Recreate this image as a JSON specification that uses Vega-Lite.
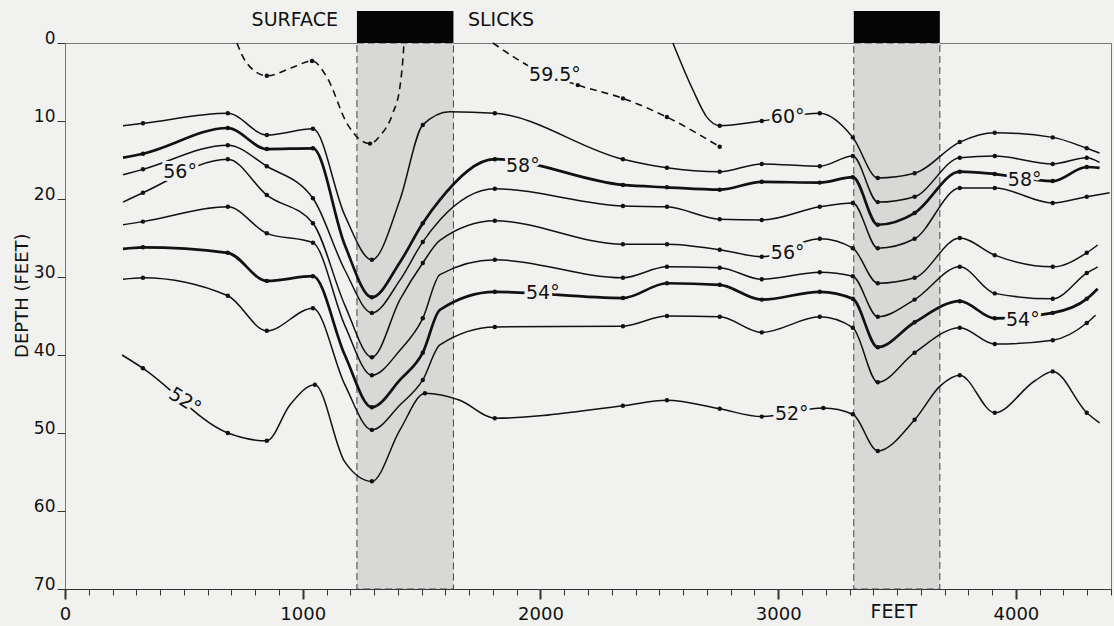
{
  "$schema": "https://vega.github.io/schema/vega-lite/v6.json",
  "width": 1046,
  "height": 546,
  "autosize": "none",
  "padding": {"left": 65, "top": 43, "right": 3, "bottom": 37},
  "background": "#f1f1f0",
  "config": {
    "view": {"stroke": "#777", "strokeWidth": 1},
    "font": "DejaVu Sans"
  },
  "datasets": {
    "iso": [
      {"s":"60","t":60,"x":2557,"d":0,"m":0},{"s":"60","t":60,"x":2641,"d":6.0,"m":0},{"s":"60","t":60,"x":2700,"d":9.5,"m":0},{"s":"60","t":60,"x":2754,"d":10.6,"m":1},{"s":"60","t":60,"x":2931,"d":10.0,"m":1},{"s":"60","t":60,"x":3175,"d":9.0,"m":1},{"s":"60","t":60,"x":3314,"d":12.1,"m":1},{"s":"60","t":60,"x":3419,"d":17.3,"m":1},{"s":"60","t":60,"x":3574,"d":16.7,"m":1},{"s":"60","t":60,"x":3764,"d":12.7,"m":1},{"s":"60","t":60,"x":3911,"d":11.5,"m":1},{"s":"60","t":60,"x":4155,"d":12.1,"m":1},{"s":"60","t":60,"x":4298,"d":13.5,"m":1},{"s":"60","t":60,"x":4352,"d":14.1,"m":0},
      {"s":"59.5a","t":59.5,"x":723,"d":0,"m":0},{"s":"59.5a","t":59.5,"x":765,"d":2.6,"m":0},{"s":"59.5a","t":59.5,"x":849,"d":4.2,"m":1},{"s":"59.5a","t":59.5,"x":959,"d":3.1,"m":0},{"s":"59.5a","t":59.5,"x":1039,"d":2.3,"m":1},{"s":"59.5a","t":59.5,"x":1102,"d":4.4,"m":0},{"s":"59.5a","t":59.5,"x":1186,"d":10.3,"m":0},{"s":"59.5a","t":59.5,"x":1241,"d":12.4,"m":0},{"s":"59.5a","t":59.5,"x":1283,"d":12.9,"m":1},{"s":"59.5a","t":59.5,"x":1325,"d":11.9,"m":0},{"s":"59.5a","t":59.5,"x":1379,"d":9.0,"m":0},{"s":"59.5a","t":59.5,"x":1409,"d":5.6,"m":0},{"s":"59.5a","t":59.5,"x":1421,"d":2.2,"m":0},{"s":"59.5a","t":59.5,"x":1426,"d":0,"m":0},
      {"s":"59.5b","t":59.5,"x":1800,"d":0,"m":0},{"s":"59.5b","t":59.5,"x":1985,"d":3.5,"m":0},{"s":"59.5b","t":59.5,"x":2157,"d":5.4,"m":1},{"s":"59.5b","t":59.5,"x":2347,"d":7.1,"m":1},{"s":"59.5b","t":59.5,"x":2532,"d":9.5,"m":1},{"s":"59.5b","t":59.5,"x":2754,"d":13.3,"m":1},
      {"s":"59","t":59,"x":244,"d":10.6,"m":0},{"s":"59","t":59,"x":328,"d":10.3,"m":1},{"s":"59","t":59,"x":685,"d":9.0,"m":1},{"s":"59","t":59,"x":849,"d":11.8,"m":1},{"s":"59","t":59,"x":1043,"d":11.0,"m":1},{"s":"59","t":59,"x":1177,"d":22.1,"m":0},{"s":"59","t":59,"x":1291,"d":27.8,"m":1},{"s":"59","t":59,"x":1409,"d":20.1,"m":0},{"s":"59","t":59,"x":1505,"d":10.5,"m":1},{"s":"59","t":59,"x":1619,"d":8.8,"m":0},{"s":"59","t":59,"x":1808,"d":9.0,"m":1},{"s":"59","t":59,"x":2347,"d":14.9,"m":1},{"s":"59","t":59,"x":2532,"d":16.0,"m":1},{"s":"59","t":59,"x":2754,"d":16.5,"m":1},{"s":"59","t":59,"x":2931,"d":15.5,"m":1},{"s":"59","t":59,"x":3175,"d":15.8,"m":1},{"s":"59","t":59,"x":3314,"d":14.5,"m":1},{"s":"59","t":59,"x":3419,"d":20.4,"m":1},{"s":"59","t":59,"x":3574,"d":19.7,"m":1},{"s":"59","t":59,"x":3764,"d":14.7,"m":1},{"s":"59","t":59,"x":3911,"d":14.5,"m":1},{"s":"59","t":59,"x":4155,"d":15.5,"m":1},{"s":"59","t":59,"x":4298,"d":14.7,"m":1},{"s":"59","t":59,"x":4352,"d":15.3,"m":0},
      {"s":"58","t":58,"x":244,"d":14.7,"m":0},{"s":"58","t":58,"x":328,"d":14.2,"m":1},{"s":"58","t":58,"x":685,"d":10.9,"m":1},{"s":"58","t":58,"x":849,"d":13.6,"m":1},{"s":"58","t":58,"x":1043,"d":13.5,"m":1},{"s":"58","t":58,"x":1177,"d":25.9,"m":0},{"s":"58","t":58,"x":1291,"d":32.6,"m":1},{"s":"58","t":58,"x":1409,"d":28.1,"m":0},{"s":"58","t":58,"x":1505,"d":23.1,"m":1},{"s":"58","t":58,"x":1577,"d":20.1,"m":0},{"s":"58","t":58,"x":1808,"d":14.9,"m":1},{"s":"58","t":58,"x":2347,"d":18.2,"m":1},{"s":"58","t":58,"x":2532,"d":18.5,"m":1},{"s":"58","t":58,"x":2754,"d":18.8,"m":1},{"s":"58","t":58,"x":2931,"d":17.8,"m":1},{"s":"58","t":58,"x":3175,"d":17.9,"m":1},{"s":"58","t":58,"x":3314,"d":17.2,"m":1},{"s":"58","t":58,"x":3419,"d":23.3,"m":1},{"s":"58","t":58,"x":3574,"d":21.8,"m":1},{"s":"58","t":58,"x":3764,"d":16.5,"m":1},{"s":"58","t":58,"x":3911,"d":16.8,"m":1},{"s":"58","t":58,"x":4155,"d":17.7,"m":1},{"s":"58","t":58,"x":4298,"d":15.9,"m":1},{"s":"58","t":58,"x":4352,"d":16.0,"m":0},
      {"s":"57","t":57,"x":244,"d":16.9,"m":0},{"s":"57","t":57,"x":328,"d":16.2,"m":1},{"s":"57","t":57,"x":685,"d":13.1,"m":1},{"s":"57","t":57,"x":849,"d":15.8,"m":1},{"s":"57","t":57,"x":1043,"d":19.9,"m":1},{"s":"57","t":57,"x":1177,"d":29.1,"m":0},{"s":"57","t":57,"x":1291,"d":34.6,"m":1},{"s":"57","t":57,"x":1409,"d":30.4,"m":0},{"s":"57","t":57,"x":1505,"d":25.5,"m":1},{"s":"57","t":57,"x":1577,"d":22.7,"m":0},{"s":"57","t":57,"x":1808,"d":18.7,"m":1},{"s":"57","t":57,"x":2347,"d":20.9,"m":1},{"s":"57","t":57,"x":2532,"d":21.0,"m":1},{"s":"57","t":57,"x":2754,"d":22.6,"m":1},{"s":"57","t":57,"x":2931,"d":22.7,"m":1},{"s":"57","t":57,"x":3175,"d":21.0,"m":1},{"s":"57","t":57,"x":3314,"d":20.5,"m":1},{"s":"57","t":57,"x":3419,"d":26.3,"m":1},{"s":"57","t":57,"x":3574,"d":25.1,"m":1},{"s":"57","t":57,"x":3764,"d":18.6,"m":1},{"s":"57","t":57,"x":3911,"d":18.6,"m":1},{"s":"57","t":57,"x":4155,"d":20.5,"m":1},{"s":"57","t":57,"x":4298,"d":19.7,"m":1},{"s":"57","t":57,"x":4394,"d":19.2,"m":0},
      {"s":"56","t":56,"x":244,"d":20.4,"m":0},{"s":"56","t":56,"x":328,"d":19.2,"m":1},{"s":"56","t":56,"x":685,"d":14.9,"m":1},{"s":"56","t":56,"x":849,"d":19.5,"m":1},{"s":"56","t":56,"x":1043,"d":23.1,"m":1},{"s":"56","t":56,"x":1177,"d":33.6,"m":0},{"s":"56","t":56,"x":1291,"d":40.3,"m":1},{"s":"56","t":56,"x":1409,"d":32.9,"m":0},{"s":"56","t":56,"x":1505,"d":28.2,"m":1},{"s":"56","t":56,"x":1577,"d":25.3,"m":0},{"s":"56","t":56,"x":1808,"d":22.8,"m":1},{"s":"56","t":56,"x":2347,"d":25.8,"m":1},{"s":"56","t":56,"x":2532,"d":25.8,"m":1},{"s":"56","t":56,"x":2754,"d":26.5,"m":1},{"s":"56","t":56,"x":2931,"d":27.4,"m":1},{"s":"56","t":56,"x":3175,"d":25.1,"m":1},{"s":"56","t":56,"x":3314,"d":26.3,"m":1},{"s":"56","t":56,"x":3419,"d":30.8,"m":1},{"s":"56","t":56,"x":3574,"d":30.1,"m":1},{"s":"56","t":56,"x":3764,"d":25.0,"m":1},{"s":"56","t":56,"x":3911,"d":27.2,"m":1},{"s":"56","t":56,"x":4155,"d":28.7,"m":1},{"s":"56","t":56,"x":4298,"d":26.9,"m":1},{"s":"56","t":56,"x":4344,"d":25.9,"m":0},
      {"s":"55","t":55,"x":244,"d":23.3,"m":0},{"s":"55","t":55,"x":328,"d":22.9,"m":1},{"s":"55","t":55,"x":685,"d":21.0,"m":1},{"s":"55","t":55,"x":849,"d":24.4,"m":1},{"s":"55","t":55,"x":1043,"d":25.6,"m":1},{"s":"55","t":55,"x":1177,"d":36.2,"m":0},{"s":"55","t":55,"x":1291,"d":42.6,"m":1},{"s":"55","t":55,"x":1409,"d":39.4,"m":0},{"s":"55","t":55,"x":1505,"d":35.3,"m":1},{"s":"55","t":55,"x":1577,"d":29.7,"m":0},{"s":"55","t":55,"x":1808,"d":27.8,"m":1},{"s":"55","t":55,"x":2347,"d":30.1,"m":1},{"s":"55","t":55,"x":2532,"d":28.7,"m":1},{"s":"55","t":55,"x":2754,"d":28.8,"m":1},{"s":"55","t":55,"x":2931,"d":30.3,"m":1},{"s":"55","t":55,"x":3175,"d":29.4,"m":1},{"s":"55","t":55,"x":3314,"d":29.9,"m":1},{"s":"55","t":55,"x":3419,"d":35.1,"m":1},{"s":"55","t":55,"x":3574,"d":32.9,"m":1},{"s":"55","t":55,"x":3764,"d":28.7,"m":1},{"s":"55","t":55,"x":3911,"d":32.1,"m":1},{"s":"55","t":55,"x":4155,"d":32.8,"m":1},{"s":"55","t":55,"x":4298,"d":29.5,"m":1},{"s":"55","t":55,"x":4344,"d":28.7,"m":0},
      {"s":"54","t":54,"x":244,"d":26.4,"m":0},{"s":"54","t":54,"x":328,"d":26.2,"m":1},{"s":"54","t":54,"x":685,"d":26.9,"m":1},{"s":"54","t":54,"x":849,"d":30.5,"m":1},{"s":"54","t":54,"x":1043,"d":29.9,"m":1},{"s":"54","t":54,"x":1177,"d":40.0,"m":0},{"s":"54","t":54,"x":1291,"d":46.7,"m":1},{"s":"54","t":54,"x":1409,"d":43.2,"m":0},{"s":"54","t":54,"x":1505,"d":39.7,"m":1},{"s":"54","t":54,"x":1577,"d":34.2,"m":0},{"s":"54","t":54,"x":1808,"d":31.9,"m":1},{"s":"54","t":54,"x":2347,"d":32.7,"m":1},{"s":"54","t":54,"x":2532,"d":30.8,"m":1},{"s":"54","t":54,"x":2754,"d":31.0,"m":1},{"s":"54","t":54,"x":2931,"d":32.9,"m":1},{"s":"54","t":54,"x":3175,"d":31.9,"m":1},{"s":"54","t":54,"x":3314,"d":32.8,"m":1},{"s":"54","t":54,"x":3419,"d":39.0,"m":1},{"s":"54","t":54,"x":3574,"d":35.8,"m":1},{"s":"54","t":54,"x":3764,"d":33.1,"m":1},{"s":"54","t":54,"x":3911,"d":35.3,"m":1},{"s":"54","t":54,"x":4155,"d":34.6,"m":1},{"s":"54","t":54,"x":4298,"d":32.8,"m":1},{"s":"54","t":54,"x":4344,"d":31.5,"m":0},
      {"s":"53","t":53,"x":244,"d":30.3,"m":0},{"s":"53","t":53,"x":328,"d":30.1,"m":1},{"s":"53","t":53,"x":685,"d":32.4,"m":1},{"s":"53","t":53,"x":849,"d":36.9,"m":1},{"s":"53","t":53,"x":1043,"d":34.0,"m":1},{"s":"53","t":53,"x":1177,"d":43.8,"m":0},{"s":"53","t":53,"x":1291,"d":49.6,"m":1},{"s":"53","t":53,"x":1409,"d":46.4,"m":0},{"s":"53","t":53,"x":1505,"d":43.2,"m":1},{"s":"53","t":53,"x":1577,"d":38.7,"m":0},{"s":"53","t":53,"x":1808,"d":36.4,"m":1},{"s":"53","t":53,"x":2347,"d":36.3,"m":1},{"s":"53","t":53,"x":2532,"d":35.0,"m":1},{"s":"53","t":53,"x":2754,"d":35.1,"m":1},{"s":"53","t":53,"x":2931,"d":37.1,"m":1},{"s":"53","t":53,"x":3175,"d":35.1,"m":1},{"s":"53","t":53,"x":3314,"d":36.5,"m":1},{"s":"53","t":53,"x":3419,"d":43.5,"m":1},{"s":"53","t":53,"x":3574,"d":39.7,"m":1},{"s":"53","t":53,"x":3764,"d":36.5,"m":1},{"s":"53","t":53,"x":3911,"d":38.6,"m":1},{"s":"53","t":53,"x":4155,"d":38.1,"m":1},{"s":"53","t":53,"x":4298,"d":35.9,"m":1},{"s":"53","t":53,"x":4335,"d":34.9,"m":0},
      {"s":"52","t":52,"x":240,"d":40.0,"m":0},{"s":"52","t":52,"x":328,"d":41.7,"m":1},{"s":"52","t":52,"x":685,"d":50.0,"m":1},{"s":"52","t":52,"x":849,"d":51.0,"m":1},{"s":"52","t":52,"x":946,"d":46.4,"m":0},{"s":"52","t":52,"x":1051,"d":43.8,"m":1},{"s":"52","t":52,"x":1177,"d":53.7,"m":0},{"s":"52","t":52,"x":1291,"d":56.2,"m":1},{"s":"52","t":52,"x":1409,"d":49.6,"m":0},{"s":"52","t":52,"x":1514,"d":44.9,"m":1},{"s":"52","t":52,"x":1661,"d":45.8,"m":0},{"s":"52","t":52,"x":1808,"d":48.1,"m":1},{"s":"52","t":52,"x":2347,"d":46.5,"m":1},{"s":"52","t":52,"x":2532,"d":45.8,"m":1},{"s":"52","t":52,"x":2754,"d":46.9,"m":1},{"s":"52","t":52,"x":2931,"d":47.9,"m":1},{"s":"52","t":52,"x":3190,"d":46.8,"m":1},{"s":"52","t":52,"x":3314,"d":47.6,"m":1},{"s":"52","t":52,"x":3419,"d":52.3,"m":1},{"s":"52","t":52,"x":3574,"d":48.3,"m":1},{"s":"52","t":52,"x":3684,"d":43.9,"m":0},{"s":"52","t":52,"x":3764,"d":42.6,"m":1},{"s":"52","t":52,"x":3911,"d":47.4,"m":1},{"s":"52","t":52,"x":4080,"d":43.3,"m":0},{"s":"52","t":52,"x":4155,"d":42.1,"m":1},{"s":"52","t":52,"x":4298,"d":47.4,"m":1},{"s":"52","t":52,"x":4352,"d":48.7,"m":0}
    ],
    "bands": [
      {"x": 1228, "x2": 1634, "d": 0, "d2": 70},
      {"x": 3318, "x2": 3680, "d": 0, "d2": 70}
    ],
    "bars": [
      {"x": 1228, "x2": 1634, "d": -4.1, "d2": 0},
      {"x": 3318, "x2": 3680, "d": -4.1, "d2": 0}
    ],
    "labels": [
      {"txt": "56°", "x": 484, "d": 16.6},
      {"txt": "58°", "x": 1926, "d": 15.8},
      {"txt": "59.5°", "x": 2061, "d": 4.1},
      {"txt": "60°", "x": 3040, "d": 9.5},
      {"txt": "56°", "x": 3040, "d": 26.9},
      {"txt": "54°", "x": 2010, "d": 32.1},
      {"txt": "52°", "x": 3057, "d": 47.5},
      {"txt": "58°", "x": 4037, "d": 17.6},
      {"txt": "54°", "x": 4029, "d": 35.5}
    ],
    "labelsRot": [
      {"txt": "52°", "x": 505, "d": 45.9}
    ],
    "headL": [{"txt": "SURFACE", "x": 1148, "d": -2.95}],
    "headR": [{"txt": "SLICKS", "x": 1695, "d": -2.95}],
    "xTitle": [{"txt": "FEET", "x": 3486, "d": 72.9}],
    "yTitle": [{"txt": "DEPTH (FEET)", "x": -178, "d": 32.4}]
  },
  "encoding": {
    "x": {
      "field": "x", "type": "quantitative",
      "scale": {"domain": [0, 4400], "nice": false, "zero": false},
      "axis": {
        "values": [0,100,200,300,400,500,600,700,800,900,1000,1100,1200,1300,1400,1500,1600,1700,1800,1900,2000,2100,2200,2300,2400,2500,2600,2700,2800,2900,3000,3100,3200,3300,3400,3500,3600,3700,3800,3900,4000,4100,4200,4300,4400],
        "labelExpr": "datum.value % 1000 === 0 ? format(datum.value, 'd') : ''",
        "tickSize": {"condition": {"test": "datum.value % 1000 === 0", "value": 10}, "value": 6},
        "tickWidth": {"condition": {"test": "datum.value % 1000 === 0", "value": 2}, "value": 1},
        "tickColor": "#333",
        "domainColor": "#333",
        "domainWidth": 1.2,
        "grid": false,
        "labelFont": "DejaVu Sans",
        "labelFontSize": 18,
        "labelColor": "#111",
        "labelPadding": 6,
        "labelFlush": false,
        "labelOverlap": false,
        "title": null
      }
    },
    "y": {
      "field": "d", "type": "quantitative",
      "scale": {"domain": [0, 70], "reverse": true, "nice": false, "zero": false},
      "axis": {
        "values": [0,10,20,30,40,50,60,70],
        "domain": false,
        "grid": false,
        "tickSize": 8,
        "tickColor": "#333",
        "labelFont": "DejaVu Sans",
        "labelFontSize": 17,
        "labelColor": "#111",
        "labelBaseline": "alphabetic",
        "labelPadding": 2,
        "title": null
      }
    }
  },
  "layer": [
    {
      "data": {"name": "bands"},
      "mark": {"type": "rect", "fill": "#d8d8d6", "stroke": "#444", "strokeDash": [7, 4], "strokeWidth": 1},
      "encoding": {"x2": {"field": "x2"}, "y2": {"field": "d2"}}
    },
    {
      "data": {"name": "iso"},
      "transform": [{"filter": "datum.t == 60 || datum.t == 59 || datum.t == 57 || datum.t == 56 || datum.t == 55 || datum.t == 53 || datum.t == 52"}],
      "mark": {"type": "line", "interpolate": "monotone", "color": "#111", "strokeWidth": 1.5},
      "encoding": {"detail": {"field": "s"}}
    },
    {
      "data": {"name": "iso"},
      "transform": [{"filter": "datum.t == 58 || datum.t == 54"}],
      "mark": {"type": "line", "interpolate": "monotone", "color": "#111", "strokeWidth": 2.7},
      "encoding": {"detail": {"field": "s"}}
    },
    {
      "data": {"name": "iso"},
      "transform": [{"filter": "datum.t == 59.5"}],
      "mark": {"type": "line", "interpolate": "monotone", "color": "#111", "strokeWidth": 1.6, "strokeDash": [7, 5]},
      "encoding": {"detail": {"field": "s"}}
    },
    {
      "data": {"name": "iso"},
      "transform": [{"filter": "datum.m == 1"}],
      "mark": {"type": "point", "filled": true, "color": "#111", "size": 20, "opacity": 1}
    },
    {
      "data": {"name": "labels"},
      "mark": {"type": "text", "fontSize": 19, "font": "DejaVu Sans", "fill": "#f1f1f0", "stroke": "#f1f1f0", "strokeWidth": 6, "align": "center", "baseline": "middle"},
      "encoding": {"text": {"field": "txt"}}
    },
    {
      "data": {"name": "labels"},
      "mark": {"type": "text", "fontSize": 19, "font": "DejaVu Sans", "color": "#111", "align": "center", "baseline": "middle"},
      "encoding": {"text": {"field": "txt"}}
    },
    {
      "data": {"name": "labelsRot"},
      "mark": {"type": "text", "fontSize": 19, "font": "DejaVu Sans", "fill": "#f1f1f0", "stroke": "#f1f1f0", "strokeWidth": 6, "align": "center", "baseline": "middle", "angle": 32},
      "encoding": {"text": {"field": "txt"}}
    },
    {
      "data": {"name": "labelsRot"},
      "mark": {"type": "text", "fontSize": 19, "font": "DejaVu Sans", "color": "#111", "align": "center", "baseline": "middle", "angle": 32},
      "encoding": {"text": {"field": "txt"}}
    },
    {
      "data": {"name": "bars"},
      "mark": {"type": "rect", "fill": "#050505"},
      "encoding": {"x2": {"field": "x2"}, "y2": {"field": "d2"}}
    },
    {
      "data": {"name": "headL"},
      "mark": {"type": "text", "fontSize": 19, "font": "DejaVu Sans", "color": "#111", "align": "right", "baseline": "middle"},
      "encoding": {"text": {"field": "txt"}}
    },
    {
      "data": {"name": "headR"},
      "mark": {"type": "text", "fontSize": 19, "font": "DejaVu Sans", "color": "#111", "align": "left", "baseline": "middle"},
      "encoding": {"text": {"field": "txt"}}
    },
    {
      "data": {"name": "xTitle"},
      "mark": {"type": "text", "fontSize": 19, "font": "DejaVu Sans", "color": "#111", "align": "center", "baseline": "middle"},
      "encoding": {"text": {"field": "txt"}}
    },
    {
      "data": {"name": "yTitle"},
      "mark": {"type": "text", "fontSize": 18, "font": "DejaVu Sans", "color": "#111", "align": "center", "baseline": "middle", "angle": 270},
      "encoding": {"text": {"field": "txt"}}
    }
  ]
}
